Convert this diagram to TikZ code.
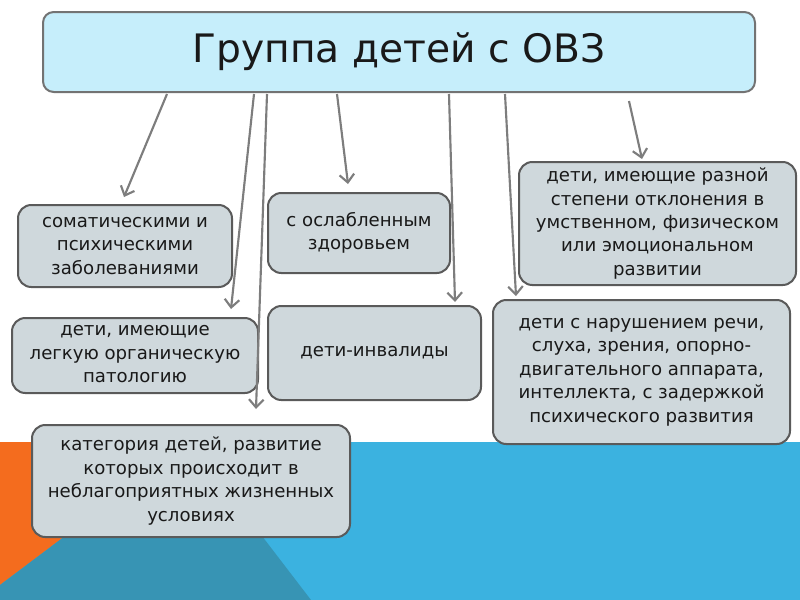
\documentclass[tikz,border=0pt]{standalone}
\usepackage{fontspec}
\setmainfont{DejaVu Sans}
\usetikzlibrary{arrows.meta,calc}
\definecolor{bgblue}{RGB}{59,178,224}
\definecolor{bgteal}{RGB}{55,148,180}
\definecolor{bgorange}{RGB}{244,108,30}
\definecolor{boxfill}{RGB}{207,216,220}
\definecolor{boxline}{RGB}{90,90,90}
\definecolor{titlefill}{RGB}{198,238,251}
\definecolor{arrowgray}{RGB}{125,125,125}
\begin{document}
\begin{tikzpicture}[x=0.75pt,y=-0.75pt,
  wh/.style 2 args={minimum width=#1*0.75pt, minimum height=#2*0.75pt},
  infobox/.style={draw=boxline, fill=boxfill, line width=1.5pt, rounded corners=10pt,
    inner sep=0pt, align=center, text=black!90, font=\fontsize{13.6}{17.6}\selectfont},
  titlebox/.style={draw=boxline!85, fill=titlefill, line width=1.5pt, rounded corners=8pt,
    inner sep=0pt, text=black!90, font=\fontsize{29.4}{34}\selectfont},
  arr/.style={draw=arrowgray, line width=1.6pt, -{Straight Barb[length=6pt,width=11pt]}}]
\useasboundingbox (0,0) rectangle (800,600);
% background
\fill[bgblue] (0,442) rectangle (800,600);
\fill[bgorange] (0,442) -- (190,442) -- (0,585) -- cycle;
\fill[bgteal] (190,442) -- (311,600) -- (0,600) -- (0,585) -- cycle;
% nodes
\node[titlebox, wh={712}{80}] (title) at (399,52) {Группа детей с ОВЗ};
\node[infobox, wh={214}{82}] (A) at (125,246) {соматическими и\\психическими\\заболеваниями};
\node[infobox, wh={182}{80}] (B) at (359,233) {с ослабленным\\здоровьем};
\node[infobox, wh={277}{123}] (C) at (657.5,223.5) {дети, имеющие разной\\степени отклонения в\\умственном, физическом\\или эмоциональном\\развитии};
\node[infobox, wh={246}{75}, text depth=2pt] (D) at (135,355.5) {дети, имеющие\\легкую органическую\\патологию};
\node[infobox, wh={213}{94}] (E) at (374.5,353) {дети-инвалиды};
\node[infobox, wh={297}{144}] (F) at (641.5,372) {дети с нарушением речи,\\слуха, зрения, опорно-\\двигательного аппарата,\\интеллекта, с задержкой\\психического развития};
\node[infobox, wh={318}{112}] (G) at (191,481) {категория детей, развитие\\которых происходит в\\неблагоприятных жизненных\\условиях};
% connectors
\draw[arr] ($(title.south west)+(125,1)$) -- ($(A.north west)+(107,-7)$);
\draw[arr] ($(title.south west)+(212,1)$) -- ($(D.north west)+(220,-8)$);
\draw[arr] ($(title.south west)+(225,1)$) -- ($(G.north west)+(225,-15)$);
\draw[arr] ($(title.south west)+(295,1)$) -- ($(B.north west)+(81,-8)$);
\draw[arr] ($(title.south west)+(407,1)$) -- ($(E.north west)+(188,-3)$);
\draw[arr] ($(title.south west)+(463,1)$) -- ($(F.north west)+(24,-3)$);
\draw[arr] ($(title.south west)+(587,8)$) -- ($(C.north west)+(124,-2)$);
\end{tikzpicture}
\end{document}
